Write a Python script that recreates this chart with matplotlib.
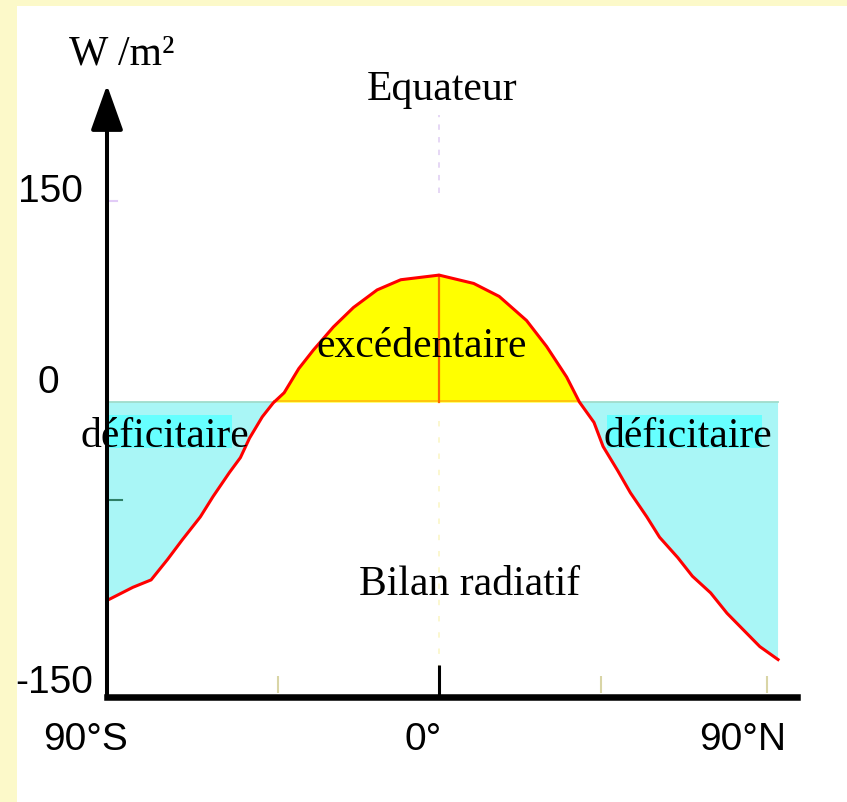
import numpy as np
import matplotlib
matplotlib.use('Agg')
import matplotlib.pyplot as plt
from matplotlib.patches import Rectangle

# latitude (deg, S negative) and radiative balance (W/m2)
lat = [-91, -84, -79, -74.5, -70.5, -65.5, -62, -57.5, -54.5, -52, -48.5, -45.5,
       -42.5, -38.5, -34.5, -29, -23.5, -17, -10.5, 0, 9.5, 16.5, 24, 29.5, 35,
       38.5, 42.5, 45, 49, 52.5, 57, 60.5, 65.5, 69.5, 74.5, 79, 83.5, 88, 93]
bilan = [-107, -100, -96, -85, -74.5, -62, -51, -38, -30, -19.5, -8, -0.5,
         5, 18, 28, 40.5, 51, 60.5, 66, 68.5, 64, 57, 44, 30, 13.5,
         0, -11, -24, -37, -49, -62, -73, -84, -94, -103, -114, -123, -132, -139]

y_labels = ['150', '0', '-150']
y_label_pos = [107.9, 4.9, -157]
y_label_x = [-97.7, -104.3, -95]
x_labels = ['90°S', '0°', '90°N']
x_label_pos = [-96.9, -4.3, 83.2]

SERIF = 'Liberation Serif'
NUM = ['Liberation Sans Narrow', 'Liberation Sans', 'DejaVu Sans']

W, H = 847, 802
fig = plt.figure(figsize=(W / 100, H / 100), dpi=100)
fig.patch.set_facecolor('#FCF9C9')
fig.add_artist(Rectangle((17 / W, 0), 1 - 17 / W, 1 - 6 / H, transform=fig.transFigure,
                         facecolor='white', edgecolor='none', zorder=0))

ax = fig.add_axes([107 / W, 1 - 697 / H, (797 - 107) / W, (697 - 85) / H])
x0, x1 = -91.1, 98.2
y0, y1 = -159.2, 171.1
ax.set_xlim(x0, x1)
ax.set_ylim(y0, y1)
ax.patch.set_alpha(0)

lat = np.array(lat)
bilan = np.array(bilan)

# fills
ax.fill_between(lat, bilan, 0, where=bilan >= 0, interpolate=True, color='#FFFF00', lw=0, zorder=1)
ax.fill_between(lat, bilan, 0, where=bilan <= 0, interpolate=True, color='#A9F6F6', lw=0, zorder=1)

# zero crossings of the curve
s = np.sign(bilan)
idx = np.where(np.diff(s) != 0)[0]
cross = []
for i in idx:
    if bilan[i] == 0:
        cross.append(lat[i])
    elif bilan[i + 1] != 0:
        cross.append(lat[i] - bilan[i] * (lat[i + 1] - lat[i]) / (bilan[i + 1] - bilan[i]))
    else:
        cross.append(lat[i + 1])
cross = sorted(set(cross))
cl, cr = cross[0], cross[-1]
ax.plot([lat[0], cl], [0, 0], color='#9FDCCB', lw=1.3, zorder=2)
ax.plot([cr, lat[-1]], [0, 0], color='#9FDCCB', lw=1.3, zorder=2)
ax.plot([cl, cr], [0.8, 0.8], color='#FFC20E', lw=1.3, zorder=2)

# brighter patches behind the "deficitaire" words
ax.add_patch(Rectangle((x0, -24.8), 34.3, 17.8, facecolor='#66FFFF', edgecolor='none', zorder=2))
ax.add_patch(Rectangle((46.1, -24.8), 42.5, 17.8, facecolor='#66FFFF', edgecolor='none', zorder=2))

# curve
ax.plot(lat, bilan, color='#FF0000', lw=2.2, zorder=4, solid_joinstyle='round')
peak = np.interp(0, lat, bilan)
ax.plot([0, 0], [0, peak], color='#FF6A00', lw=1.6, zorder=3)

# faint equator guide lines
ax.plot([0, 0], [113, 155], color='#E4D4F4', lw=1.3, ls=(0, (3, 4)), zorder=1)
ax.plot([0, 0], [-10, -145], color='#FBF7CC', lw=1.3, ls=(0, (3, 6)), zorder=1)
ax.vlines([-44.2, 44.5, 90], -157, -148, color='#D9D5A6', lw=1.5, zorder=1)
ax.plot([x0, -87], [-52.9, -52.9], color='#2F7F66', lw=1.5, zorder=3)
ax.plot([x0, -88.3], [108.5, 108.5], color='#E2CCF7', lw=1.5, zorder=3)

# axes
for side in ['top', 'right', 'left']:
    ax.spines[side].set_visible(False)
ax.spines['bottom'].set_linewidth(4.7)
ax.spines['bottom'].set_zorder(6)
ax.set_xticks([0])
ax.set_yticks([])
ax.tick_params(axis='x', direction='in', length=23, width=2.2, labelbottom=False, color='black')
ax.annotate('', xy=(x0, y1), xytext=(x0, y0), annotation_clip=False,
            arrowprops=dict(arrowstyle='-|>,head_length=1.4,head_width=0.5', color='black',
                            lw=2.9, shrinkA=0, shrinkB=0, mutation_scale=20), zorder=6)

# texts
ax.text(-87, 181.9, 'W /m²', ha='center', va='baseline', family=SERIF, fontsize=30, clip_on=False)
ax.text(0.8, 163, 'Equateur', ha='center', va='baseline', family=SERIF, fontsize=30)
ax.text(-4.7, 24.3, 'excédentaire', ha='center', va='baseline', family=SERIF, fontsize=30, zorder=5)
ax.text(-75.2, -24.3, 'déficitaire', ha='center', va='baseline', family=SERIF, fontsize=30, zorder=5, clip_on=False)
ax.text(68.3, -24.3, 'déficitaire', ha='center', va='baseline', family=SERIF, fontsize=30, zorder=5)
ax.text(8.5, -104.2, 'Bilan radiatif', ha='center', va='baseline', family=SERIF, fontsize=30, zorder=5)

for lab, yp, xp in zip(y_labels, y_label_pos, y_label_x):
    ax.text(xp, yp, lab, ha='right', va='baseline', family=NUM, fontsize=28, clip_on=False)
for lab, xp in zip(x_labels, x_label_pos):
    ax.text(xp, -187.8, lab, ha='center', va='baseline', family=NUM, fontsize=28, clip_on=False)

fig.savefig('out.png', dpi=100, facecolor=fig.get_facecolor())
